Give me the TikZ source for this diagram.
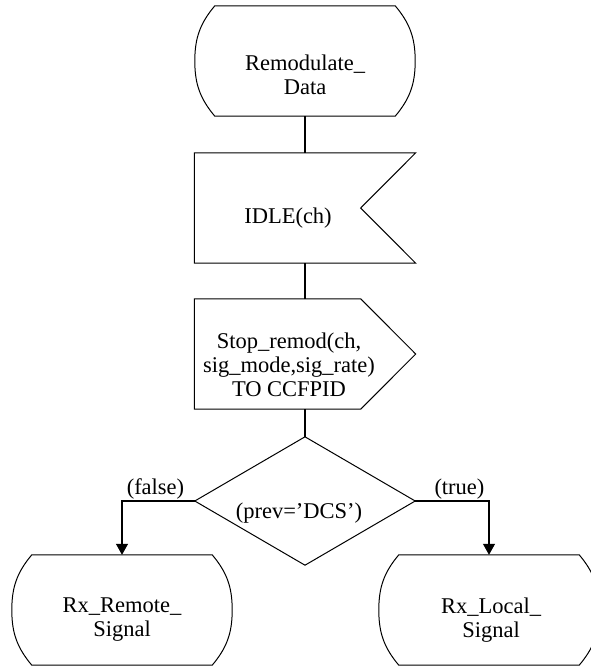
\documentclass[tikz,border=0pt]{standalone}
\usepackage{fontspec}
\setmainfont{Liberation Serif}
\usetikzlibrary{arrows.meta,calc}

\begin{document}
\begin{tikzpicture}[x=1pt,y=1pt,line join=miter,
  frame/.style={inner sep=0pt,minimum width=#1,minimum height=110pt},
  frame/.default=220pt,
  outline/.style={draw=black,line width=1pt},
  flow/.style={draw=black,line width=1.5pt},
  branch/.style={draw=black,line width=1.1pt,-{Triangle[length=11pt,width=12pt]}},
  txt/.style={font=\fontsize{22.5}{24}\selectfont,align=center,inner sep=0pt},
  lbl/.style={font=\fontsize{22.5}{24}\selectfont,inner sep=1pt}]
  \clip (0,0) rectangle (591,-667);
  \fill[white] (0,0) rectangle (591,-667);

  % ---- shape frames (outlines are drawn from their anchors) ----
  \node[frame] (start) at (305,-61) {};
  \node[frame=221pt] (idle) at (305,-208) {};
  \node[frame=221pt] (stop) at (305,-354) {};
  \node[frame,minimum height=128pt] (dec) at (305,-501) {};
  \node[frame] (remote) at (122,-610) {};
  \node[frame] (local) at (489,-610) {};

  % ---- state symbols ----
  \foreach \n in {start,remote,local}{
    \draw[outline] ($(\n.north west)+(20,0)$) -- ($(\n.north east)+(-20,0)$)
      to[out=-50,in=90] (\n.east) to[out=-90,in=50] ($(\n.south east)+(-20,0)$)
      -- ($(\n.south west)+(20,0)$)
      to[out=130,in=-90] (\n.west) to[out=90,in=-130] ($(\n.north west)+(20,0)$) -- cycle;}

  % ---- input signal (notch on the right) ----
  \draw[outline] (idle.north west) -- (idle.north east) -- ($(idle.east)+(-55,0)$)
    -- (idle.south east) -- (idle.south west) -- cycle;

  % ---- output signal (point on the right) ----
  \draw[outline] (stop.north west) -- ($(stop.north east)+(-55,0)$) -- (stop.east)
    -- ($(stop.south east)+(-55,0)$) -- (stop.south west) -- cycle;

  % ---- decision ----
  \draw[outline] (dec.north) -- (dec.east) -- (dec.south) -- (dec.west) -- cycle;

  % ---- texts ----
  \node[txt] (start-t) at (305,-75) {Remodulate\_\\Data};
  \node[txt] (idle-t) at (288,-218) {IDLE(ch)};
  \node[txt] (stop-t) at (289,-365) {Stop\_remod(ch,\\sig\_mode,sig\_rate)\\TO CCFPID};
  \node[txt] (dec-t) at (299,-513) {(prev='DCS')};
  \node[txt] (remote-t) at (122,-620) {Rx\_Remote\_\\Signal};
  \node[txt] (local-t) at (491,-620) {Rx\_Local\_\\Signal};

  % ---- connectors ----
  \draw[flow] (start.south) -- (idle.north);
  \draw[flow] (idle.south) -- (stop.north);
  \draw[flow] (stop.south) -- (dec.north);
  \draw[branch] (dec.west) -| node[lbl,pos=0.27,above] (lfalse) {(false)} (remote.north);
  \draw[branch] (dec.east) -| node[lbl,pos=0.3,above] (ltrue) {(true)} (local.north);
\end{tikzpicture}
\end{document}
